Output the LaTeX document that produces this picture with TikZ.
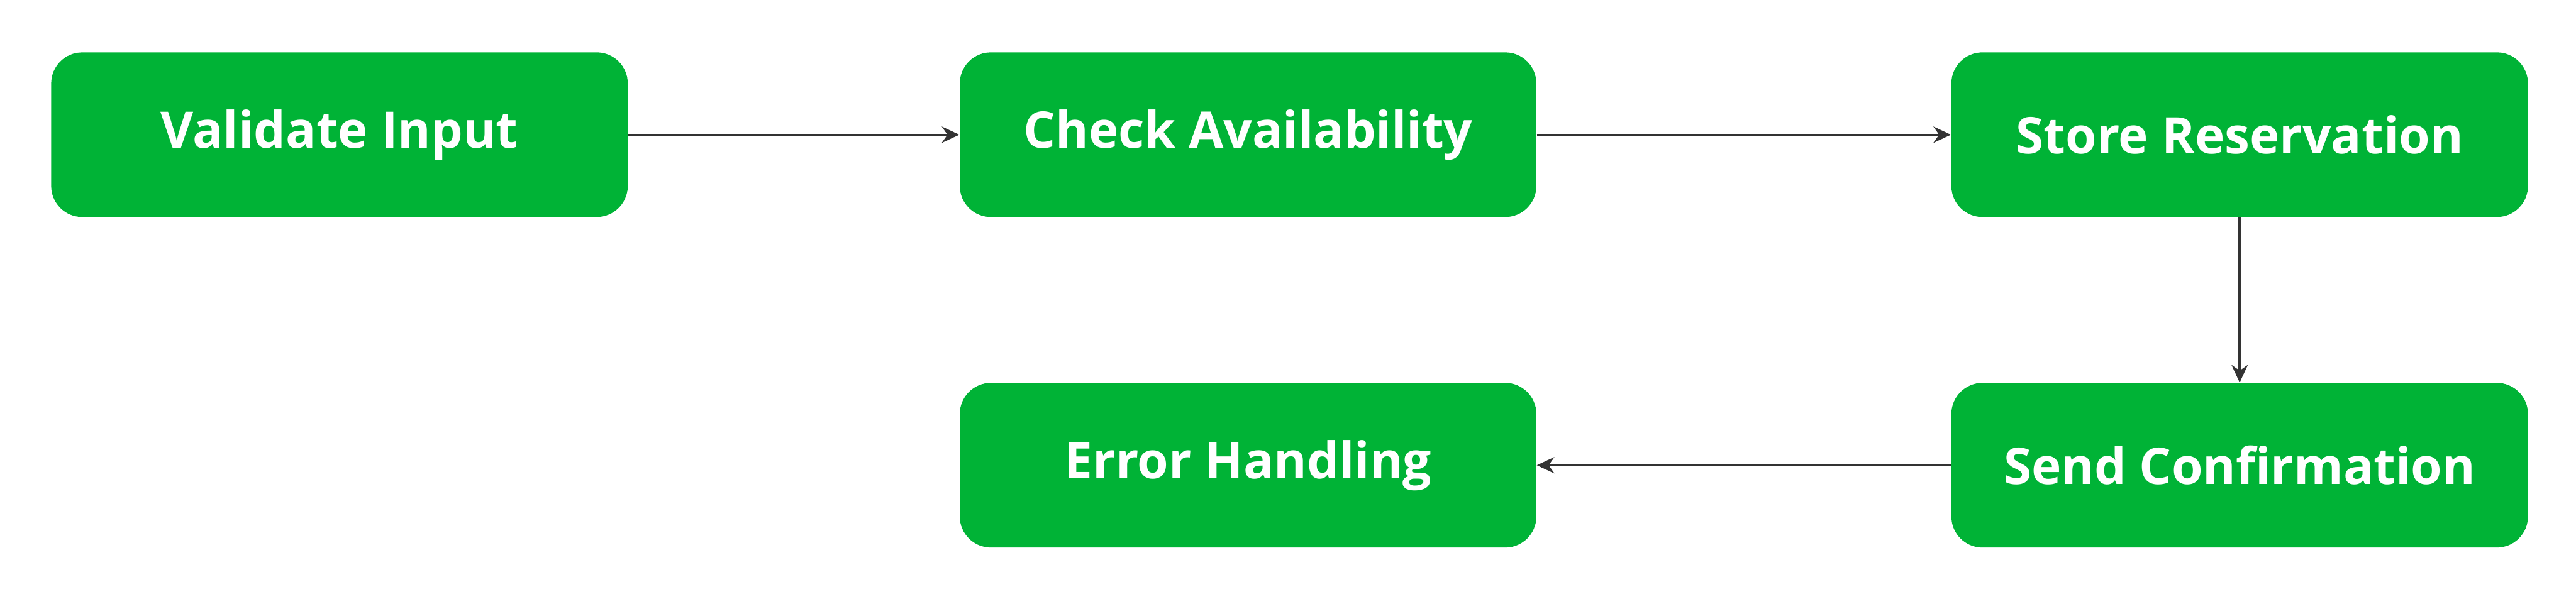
\documentclass[tikz,border=0pt]{standalone}
\usepackage{fontspec}
\setmainfont{Open Sans}
\usetikzlibrary{arrows.meta}
\definecolor{stepgreen}{HTML}{00B336}
\definecolor{linkgrey}{HTML}{333333}
\tikzset{
  task/.style={draw=none, fill=stepgreen, rounded corners=0.5cm,
    minimum width=9.24cm, minimum height=2.64cm, inner sep=0pt,
    text=white, font=\bfseries\fontsize{23}{28}\selectfont},
  link/.style={draw=linkgrey, line width=1pt, -{Stealth[length=0.28cm, width=0.26cm]}}
}
\begin{document}
\begin{tikzpicture}
  \useasboundingbox (0,0) rectangle (41.28,-9.68);
  % first row
  \node[task] (validate) at (5.44,-2.16) {Validate Input};
  \node[task] (check) at (20.00,-2.16) {Check Availability};
  \node[task] (store) at (35.89,-2.16) {Store Reservation};
  % second row
  \node[task] (error) at (20.00,-7.46) {Error Handling};
  \node[task] (send) at (35.89,-7.46) {Send Confirmation};
  % links
  \draw[link] (validate) -- (check);
  \draw[link] (check) -- (store);
  \draw[link] (store) -- (send);
  \draw[link] (send) -- (error);
\end{tikzpicture}
\end{document}
